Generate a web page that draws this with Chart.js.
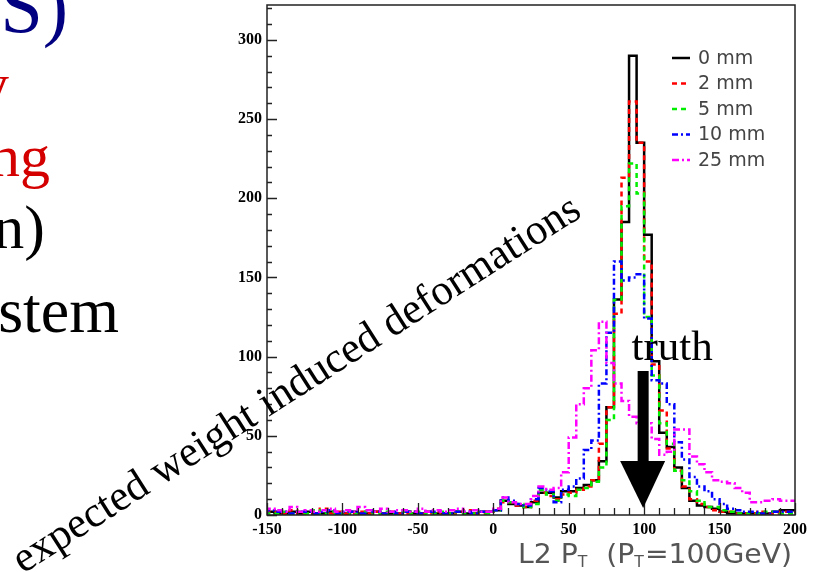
<!DOCTYPE html>
<html>
<head>
<meta charset="utf-8">
<script src="https://cdn.jsdelivr.net/npm/chart.js@4.4.0/dist/chart.umd.min.js"></script>
<style>
  html, body { margin: 0; padding: 0; background: #fff; }
  #wrap { position: relative; width: 815px; height: 572px; }
</style>
</head>
<body>
<div id="wrap"><canvas id="histChart" width="815" height="572"></canvas></div>
<script>
// --- histogram data (L2 pT, 5 GeV bins from -150 to 200) ---
const binEdges = [
  -150, -145, -140, -135, -130, -125, -120, -115, -110, -105,
  -100, -95, -90, -85, -80, -75, -70, -65, -60, -55,
  -50, -45, -40, -35, -30, -25, -20, -15, -10, -5,
  0, 5, 10, 15, 20, 25, 30, 35, 40, 45,
  50, 55, 60, 65, 70, 75, 80, 85, 90, 95,
  100, 105, 110, 115, 120, 125, 130, 135, 140, 145,
  150, 155, 160, 165, 170, 175, 180, 185, 190, 195,
  200
];
const seriesLabels = ['0 mm', '2 mm', '5 mm', '10 mm', '25 mm'];
const seriesColors = ['#000000', '#ff0000', '#00ee00', '#0000ff', '#ff00ff'];

const counts0mm = [
  2, 2, 1, 1, 2, 1, 2, 1, 1, 2, 1, 1, 2, 1, 1, 2, 1, 1, 1, 2, 1, 1, 2, 1, 1, 1, 2, 1, 1, 2,
  2, 3, 9, 7, 6, 5, 8, 14, 14, 11,
  15, 15, 17, 19, 22, 34, 68, 136, 185, 290,
  235, 177, 97, 52, 43, 30, 17, 9, 6, 5,
  4, 2, 1, 1, 1, 1, 1, 1, 2, 3
];
const counts2mm = [
  1, 2, 2, 1, 3, 1, 1, 2, 4, 1, 2, 1, 1, 2, 1, 2, 1, 2, 1, 1, 2, 1, 1, 2, 1, 1, 2, 3, 1, 1,
  2, 4, 8, 8, 6, 5, 9, 14, 12, 10,
  13, 14, 16, 18, 22, 45, 68, 127, 213, 261,
  235, 160, 95, 66, 42, 28, 18, 10, 7, 5,
  3, 2, 2, 1, 1, 1, 2, 1, 1, 2
];
const counts5mm = [
  2, 1, 1, 2, 1, 2, 1, 3, 1, 2, 1, 2, 1, 1, 2, 1, 2, 1, 1, 2, 1, 2, 1, 1, 2, 1, 2, 1, 1, 2,
  1, 3, 9, 8, 7, 5, 7, 16, 13, 9,
  13, 12, 16, 17, 21, 30, 60, 136, 195, 222,
  203, 125, 88, 58, 45, 28, 22, 15, 9, 5,
  5, 3, 2, 1, 1, 1, 1, 2, 2, 1
];
const counts10mm = [
  1, 3, 2, 2, 1, 2, 2, 1, 2, 3, 1, 2, 2, 1, 3, 2, 1, 2, 1, 2, 2, 1, 2, 2, 1, 1, 2, 2, 1, 2,
  2, 3, 11, 9, 7, 6, 10, 17, 15, 8,
  16, 18, 23, 41, 47, 83, 115, 160, 148, 150,
  152, 124, 85, 83, 70, 46, 35, 24, 18, 15,
  10, 7, 4, 3, 2, 2, 1, 1, 2, 2
];
const counts25mm = [
  2, 4, 3, 2, 5, 2, 3, 2, 3, 4, 2, 3, 2, 5, 3, 2, 4, 2, 3, 3, 2, 4, 2, 3, 2, 3, 4, 2, 3, 2,
  2, 4, 11, 8, 7, 7, 12, 18, 16, 17,
  27, 49, 70, 80, 104, 122, 96, 83, 72, 62,
  58, 58, 48, 38, 40, 54, 54, 37, 32, 27,
  22, 21, 20, 17, 14, 8, 8, 9, 10, 9
];
const allCounts = [counts0mm, counts2mm, counts5mm, counts10mm, counts25mm];
const seriesDash = [[], [5, 4], [5, 4], [6, 3, 2, 3], [7, 3, 2, 3]];

const xTicks = [-150, -100, -50, 0, 50, 100, 150, 200];
const yTicks = [0, 50, 100, 150, 200, 250, 300];
const truthValue = 100;

// step points: each bin edge carries the bin's count, last edge repeats the last bin
function stepPoints(counts) {
  return binEdges.map((x, i) => ({ x: x, y: counts[Math.min(i, counts.length - 1)] }));
}

// ROOT style frame + inward ticks
const rootFrame = {
  id: 'rootFrame',
  afterDatasetsDraw(chart) {
    const { ctx, chartArea: a, scales: { x, y } } = chart;
    ctx.save();
    ctx.strokeStyle = '#222';
    ctx.lineWidth = 1.5;
    ctx.strokeRect(a.left, a.top, a.right - a.left, a.bottom - a.top);
    ctx.lineWidth = 1.3;
    ctx.beginPath();
    for (let v = 0; v <= 320; v += 10) {
      const py = Math.round(y.getPixelForValue(v)) + 0.5;
      const len = v % 50 === 0 ? 10 : 5;
      ctx.moveTo(a.left, py);
      ctx.lineTo(a.left + len, py);
    }
    for (let v = -150; v <= 200; v += 10) {
      const px = Math.round(x.getPixelForValue(v)) + 0.5;
      const len = v % 50 === 0 ? 12 : 7;
      ctx.moveTo(px, a.bottom);
      ctx.lineTo(px, a.bottom - len);
    }
    ctx.stroke();
    ctx.restore();
  }
};

// legend, truth arrow, axis title and the slide text around the plot
const overlays = {
  id: 'overlays',
  afterDraw(chart) {
    const { ctx, scales: { x } } = chart;
    ctx.save();

    // legend
    chart.data.datasets.forEach((ds, i) => {
      const ly = 58 + i * 25.5;
      ctx.strokeStyle = ds.borderColor;
      ctx.lineWidth = 2.5;
      ctx.setLineDash(ds.borderDash);
      ctx.beginPath();
      ctx.moveTo(672, ly);
      ctx.lineTo(690, ly);
      ctx.stroke();
      ctx.setLineDash([]);
      ctx.fillStyle = '#444';
      ctx.font = '19px "DejaVu Sans"';
      ctx.textBaseline = 'middle';
      ctx.textAlign = 'left';
      ctx.fillText(ds.label, 698, ly + 1);
    });

    // truth arrow
    const tipX = x.getPixelForValue(truthValue) - 1;
    ctx.fillStyle = '#000';
    ctx.fillRect(tipX - 5.5, 371, 11, 91);
    ctx.beginPath();
    ctx.moveTo(tipX - 23, 461);
    ctx.lineTo(tipX + 22, 461);
    ctx.lineTo(tipX, 508);
    ctx.closePath();
    ctx.fill();
    ctx.font = '43px "Liberation Serif"';
    ctx.textBaseline = 'alphabetic';
    ctx.textAlign = 'center';
    ctx.fillText('truth', tipX + 29, 360);

    // rotated annotation
    ctx.save();
    ctx.translate(23, 574);
    ctx.rotate(-32.6 * Math.PI / 180);
    ctx.textAlign = 'left';
    ctx.font = '43px "Liberation Serif"';
    ctx.fillText('expected weight induced deformations', 0, 0);
    ctx.restore();

    // x axis title: L2 P_T  (P_T=100GeV), stretched to the reference width
    ctx.fillStyle = '#555';
    ctx.textAlign = 'left';
    const parts = [['L2 P', 0], ['T', 1], ['  (P', 0], ['T', 1], ['=100GeV)', 0]];
    let total = 0;
    parts.forEach(([t, sub]) => {
      ctx.font = sub ? '15px "DejaVu Sans"' : '27px "DejaVu Sans"';
      total += ctx.measureText(t).width + (sub ? 1 : 0);
    });
    ctx.save();
    ctx.translate(518, 0);
    ctx.scale(274 / total, 1);
    let cx = 0;
    parts.forEach(([t, sub]) => {
      ctx.font = sub ? '15px "DejaVu Sans"' : '27px "DejaVu Sans"';
      ctx.fillText(t, cx, sub ? 567 : 563);
      cx += ctx.measureText(t).width + (sub ? 1 : 0);
    });
    ctx.restore();

    // slide text cut by the left edge
    ctx.textAlign = 'right';
    ctx.fillStyle = '#000080';
    ctx.font = '76px "Liberation Serif"';
    ctx.fillText('S)', 68, 32);
    ctx.fillStyle = '#d40000';
    ctx.font = '60px "Liberation Serif"';
    ctx.fillText('y', 9, 104);
    ctx.fillText('ng', 50, 176);
    ctx.fillStyle = '#000';
    ctx.font = '62px "Liberation Serif"';
    ctx.fillText('n)', 45, 248);
    ctx.font = '64px "Liberation Serif"';
    ctx.fillText('stem', 119, 332);

    ctx.restore();
  }
};

const ctx = document.getElementById('histChart').getContext('2d');
const histChart = new Chart(ctx, {
  type: 'line',
  data: {
    datasets: allCounts.map((counts, i) => ({
      label: seriesLabels[i],
      data: stepPoints(counts),
      borderColor: seriesColors[i],
      borderDash: seriesDash[i],
      borderWidth: 2.5,
      pointRadius: 0,
      stepped: 'after',
      fill: false,
      order: 5 - i
    }))
  },
  options: {
    responsive: false,
    animation: false,
    layout: { padding: { left: 0, right: 20, top: 5, bottom: 0 } },
    plugins: { legend: { display: false }, tooltip: { enabled: false } },
    scales: {
      x: {
        type: 'linear',
        min: -150,
        max: 200,
        afterFit: (s) => { s.height = 57; s.paddingLeft = 0; s.paddingRight = 0; },
        afterBuildTicks: (s) => { s.ticks = xTicks.map(v => ({ value: v })); },
        grid: { display: false, drawTicks: false },
        border: { display: false },
        ticks: {
          maxRotation: 0,
          autoSkip: false,
          padding: 5,
          color: '#000',
          font: { family: 'Liberation Serif', weight: 'bold', size: 16 }
        }
      },
      y: {
        min: 0,
        max: 322,
        afterFit: (s) => { s.width = 267; s.paddingTop = 0; s.paddingBottom = 0; },
        afterBuildTicks: (s) => { s.ticks = yTicks.map(v => ({ value: v })); },
        grid: { display: false, drawTicks: false },
        border: { display: false },
        ticks: {
          padding: 5,
          color: '#000',
          font: { family: 'Liberation Serif', weight: 'bold', size: 16 }
        }
      }
    }
  },
  plugins: [rootFrame, overlays]
});
</script>
</body>
</html>
